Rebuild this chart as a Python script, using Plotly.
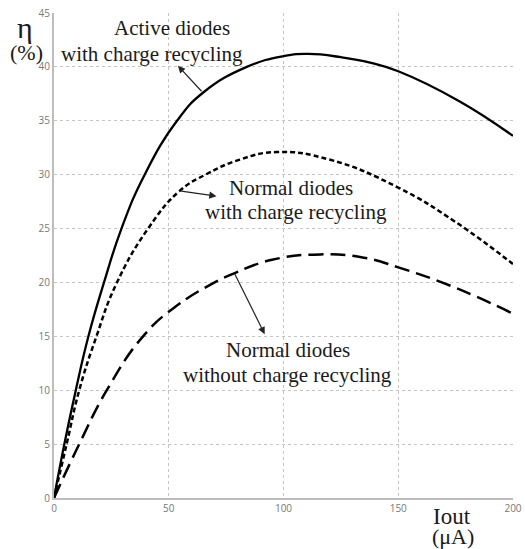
import plotly.graph_objects as go

# Active diodes with charge recycling (solid)
active_x = [0, 4.5, 9.5, 15.0, 21.8, 29.4, 39.5, 53.6, 64.9, 84, 100, 111, 125, 137.7, 150, 176.8, 200]
active_y = [0, 5, 10, 15, 20, 25, 30, 35, 37.6, 40, 41.0, 41.2, 40.9, 40.4, 39.6, 36.8, 33.6]

# Normal diodes with charge recycling (short dash)
normal_rc_x = [0, 5.5, 11, 18.5, 27, 41, 54.8, 66, 81, 97, 120, 150, 175, 200]
normal_rc_y = [0, 5, 10, 15, 19.8, 25, 28.5, 30, 31.4, 32.1, 31.4, 28.8, 25.6, 21.7]

# Normal diodes without charge recycling (long dash)
normal_x = [0, 11, 23, 38.8, 52.6, 70, 78, 95, 116, 135, 150, 175, 200]
normal_y = [0, 5, 10, 15, 17.7, 20, 20.8, 22.1, 22.6, 22.3, 21.4, 19.5, 17.1]

x_ticks = [0, 50, 100, 150, 200]
y_ticks = [0, 5, 10, 15, 20, 25, 30, 35, 40, 45]

fig = go.Figure()
fig.add_trace(go.Scatter(x=active_x, y=active_y, mode="lines",
                         line=dict(color="black", width=2.3, shape="spline", smoothing=1.3)))
fig.add_trace(go.Scatter(x=normal_rc_x, y=normal_rc_y, mode="lines",
                         line=dict(color="black", width=2.5, dash="5px,3px", shape="spline", smoothing=1.3)))
fig.add_trace(go.Scatter(x=normal_x, y=normal_y, mode="lines",
                         line=dict(color="black", width=2.5, dash="15px,7px", shape="spline", smoothing=1.3)))

serif = dict(family="Liberation Serif, Times New Roman, serif", size=21, color="#1a1a1a")
texts = [
    ("Active diodes", 51.3, 43.6),
    ("with charge recycling", 42.6, 41.2),
    ("Normal diodes", 103.2, 28.8),
    ("with charge recycling", 105.3, 26.5),
    ("Normal diodes", 101.8, 13.7),
    ("without charge recycling", 101.9, 11.4),
]
for t, x, y in texts:
    fig.add_annotation(x=x, y=y, text=t, showarrow=False, font=serif,
                       xanchor="center", yanchor="middle")

arrows = [
    (54.0, 40.1, 64.9, 37.6),
    (70.8, 28.0, 54.8, 28.5),
    (91.8, 15.2, 78.5, 20.9),
]
for hx, hy, tx, ty in arrows:
    fig.add_annotation(x=hx, y=hy, ax=tx, ay=ty, axref="x", ayref="y", text="",
                       showarrow=True, arrowhead=2, arrowsize=1.2, arrowwidth=1.2,
                       arrowcolor="#222")

# axis labels
fig.add_annotation(xref="paper", yref="paper", x=-0.063, y=0.970, text="η",
                   showarrow=False, font=dict(family="Liberation Serif, serif", size=30, color="#1a1a1a"),
                   xanchor="center", yanchor="middle")
fig.add_annotation(xref="paper", yref="paper", x=-0.061, y=0.918, text="(%)",
                   showarrow=False, font=dict(family="Liberation Serif, serif", size=22, color="#1a1a1a"),
                   xanchor="center", yanchor="middle")
fig.add_annotation(xref="paper", yref="paper", x=0.867, y=-0.038, text="Iout",
                   showarrow=False, font=dict(family="Liberation Serif, serif", size=23, color="#1a1a1a"),
                   xanchor="center", yanchor="middle")
fig.add_annotation(xref="paper", yref="paper", x=0.869, y=-0.080, text="(μA)",
                   showarrow=False, font=dict(family="Liberation Serif, serif", size=22, color="#1a1a1a"),
                   xanchor="center", yanchor="middle")

fig.update_layout(
    width=525, height=549,
    margin=dict(l=54, r=12, t=13, b=51, autoexpand=False),
    paper_bgcolor="white", plot_bgcolor="white",
    showlegend=False,
    xaxis=dict(range=[0, 200], tickvals=x_ticks, showgrid=True, gridcolor="#c4c4c4",
               griddash="dot", gridwidth=1, zeroline=False, showline=True,
               linecolor="#bdbdbd", linewidth=2, ticks="", automargin=False,
               tickfont=dict(family="Open Sans, sans-serif", size=10, color="#777")),
    yaxis=dict(range=[0, 45], tickvals=y_ticks, showgrid=True, gridcolor="#c4c4c4",
               griddash="dot", gridwidth=1, zeroline=False, showline=True,
               linecolor="#bdbdbd", linewidth=2, ticks="", automargin=False,
               tickfont=dict(family="Open Sans, sans-serif", size=10, color="#777")),
)

fig.write_html("out.html", config={"displayModeBar": False},
               post_script="document.body.style.margin='0px';")
